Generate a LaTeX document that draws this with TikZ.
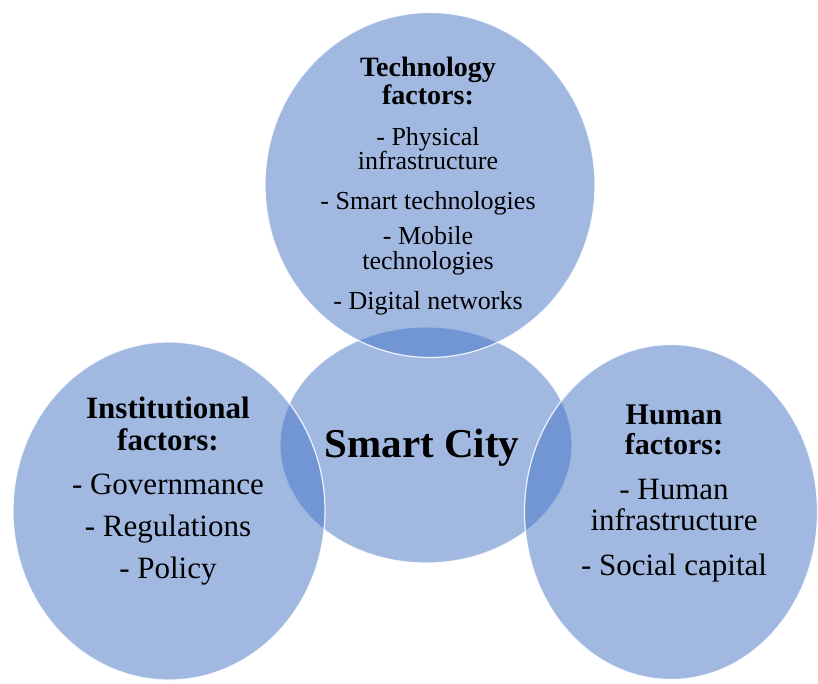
\documentclass[tikz,border=0pt]{standalone}
\usepackage{fontspec}
\setmainfont{Liberation Serif}
\usetikzlibrary{positioning,shapes.geometric}
\definecolor{ringblue}{HTML}{4472C4}
\begin{document}
\begin{tikzpicture}[x=1pt, y=-1pt]
	\tikzset{
		ring/.style={ellipse, inner sep=0, fill=ringblue, fill opacity=.5, draw=white, draw opacity=.85, line width=1.2pt},
		head/.style={align=center, inner sep=0, anchor=north},
		listtext/.style={align=center, inner sep=0}
	}
	\useasboundingbox (0,0) rectangle (818,684);
	\node[ring, minimum width=292pt, minimum height=236pt] (city) at (426,445) {};
	\node[ring, minimum width=330pt, minimum height=345pt] (tech) at (430,185) {};
	\node[ring, minimum width=312pt, minimum height=338pt] (inst) at (169,511) {};
	\node[ring, minimum width=293pt, minimum height=335pt] (human) at (671,512) {};
	\node[font=\bfseries\fontsize{41}{41}\selectfont, anchor=base, inner sep=0] (citylabel) at (422,457) {Smart City};
	\node[head, font=\bfseries\fontsize{28}{28}\selectfont] (techhead) at (428,57) {Technology\\factors:};
	\node[listtext, below=22pt of techhead, font=\fontsize{26}{24.5}\selectfont] (techlist)
		{- Physical\\infrastructure\\[15pt]- Smart technologies\\[11pt]- Mobile\\technologies\\[16pt]- Digital networks};
	\node[head, font=\bfseries\fontsize{31}{32}\selectfont] (insthead) at (168,397) {Institutional\\factors:};
	\node[listtext, below=22pt of insthead, font=\fontsize{31}{42}\selectfont] (instlist)
		{- Governmance\\- Regulations\\- Policy};
	\node[head, font=\bfseries\fontsize{30}{30}\selectfont] (humanhead) at (674,405) {Human\\factors:};
	\node[listtext, below=24pt of humanhead, font=\fontsize{31}{30.5}\selectfont] (humanlist)
		{- Human\\infrastructure\\[15pt]- Social capital};
\end{tikzpicture}
\end{document}
